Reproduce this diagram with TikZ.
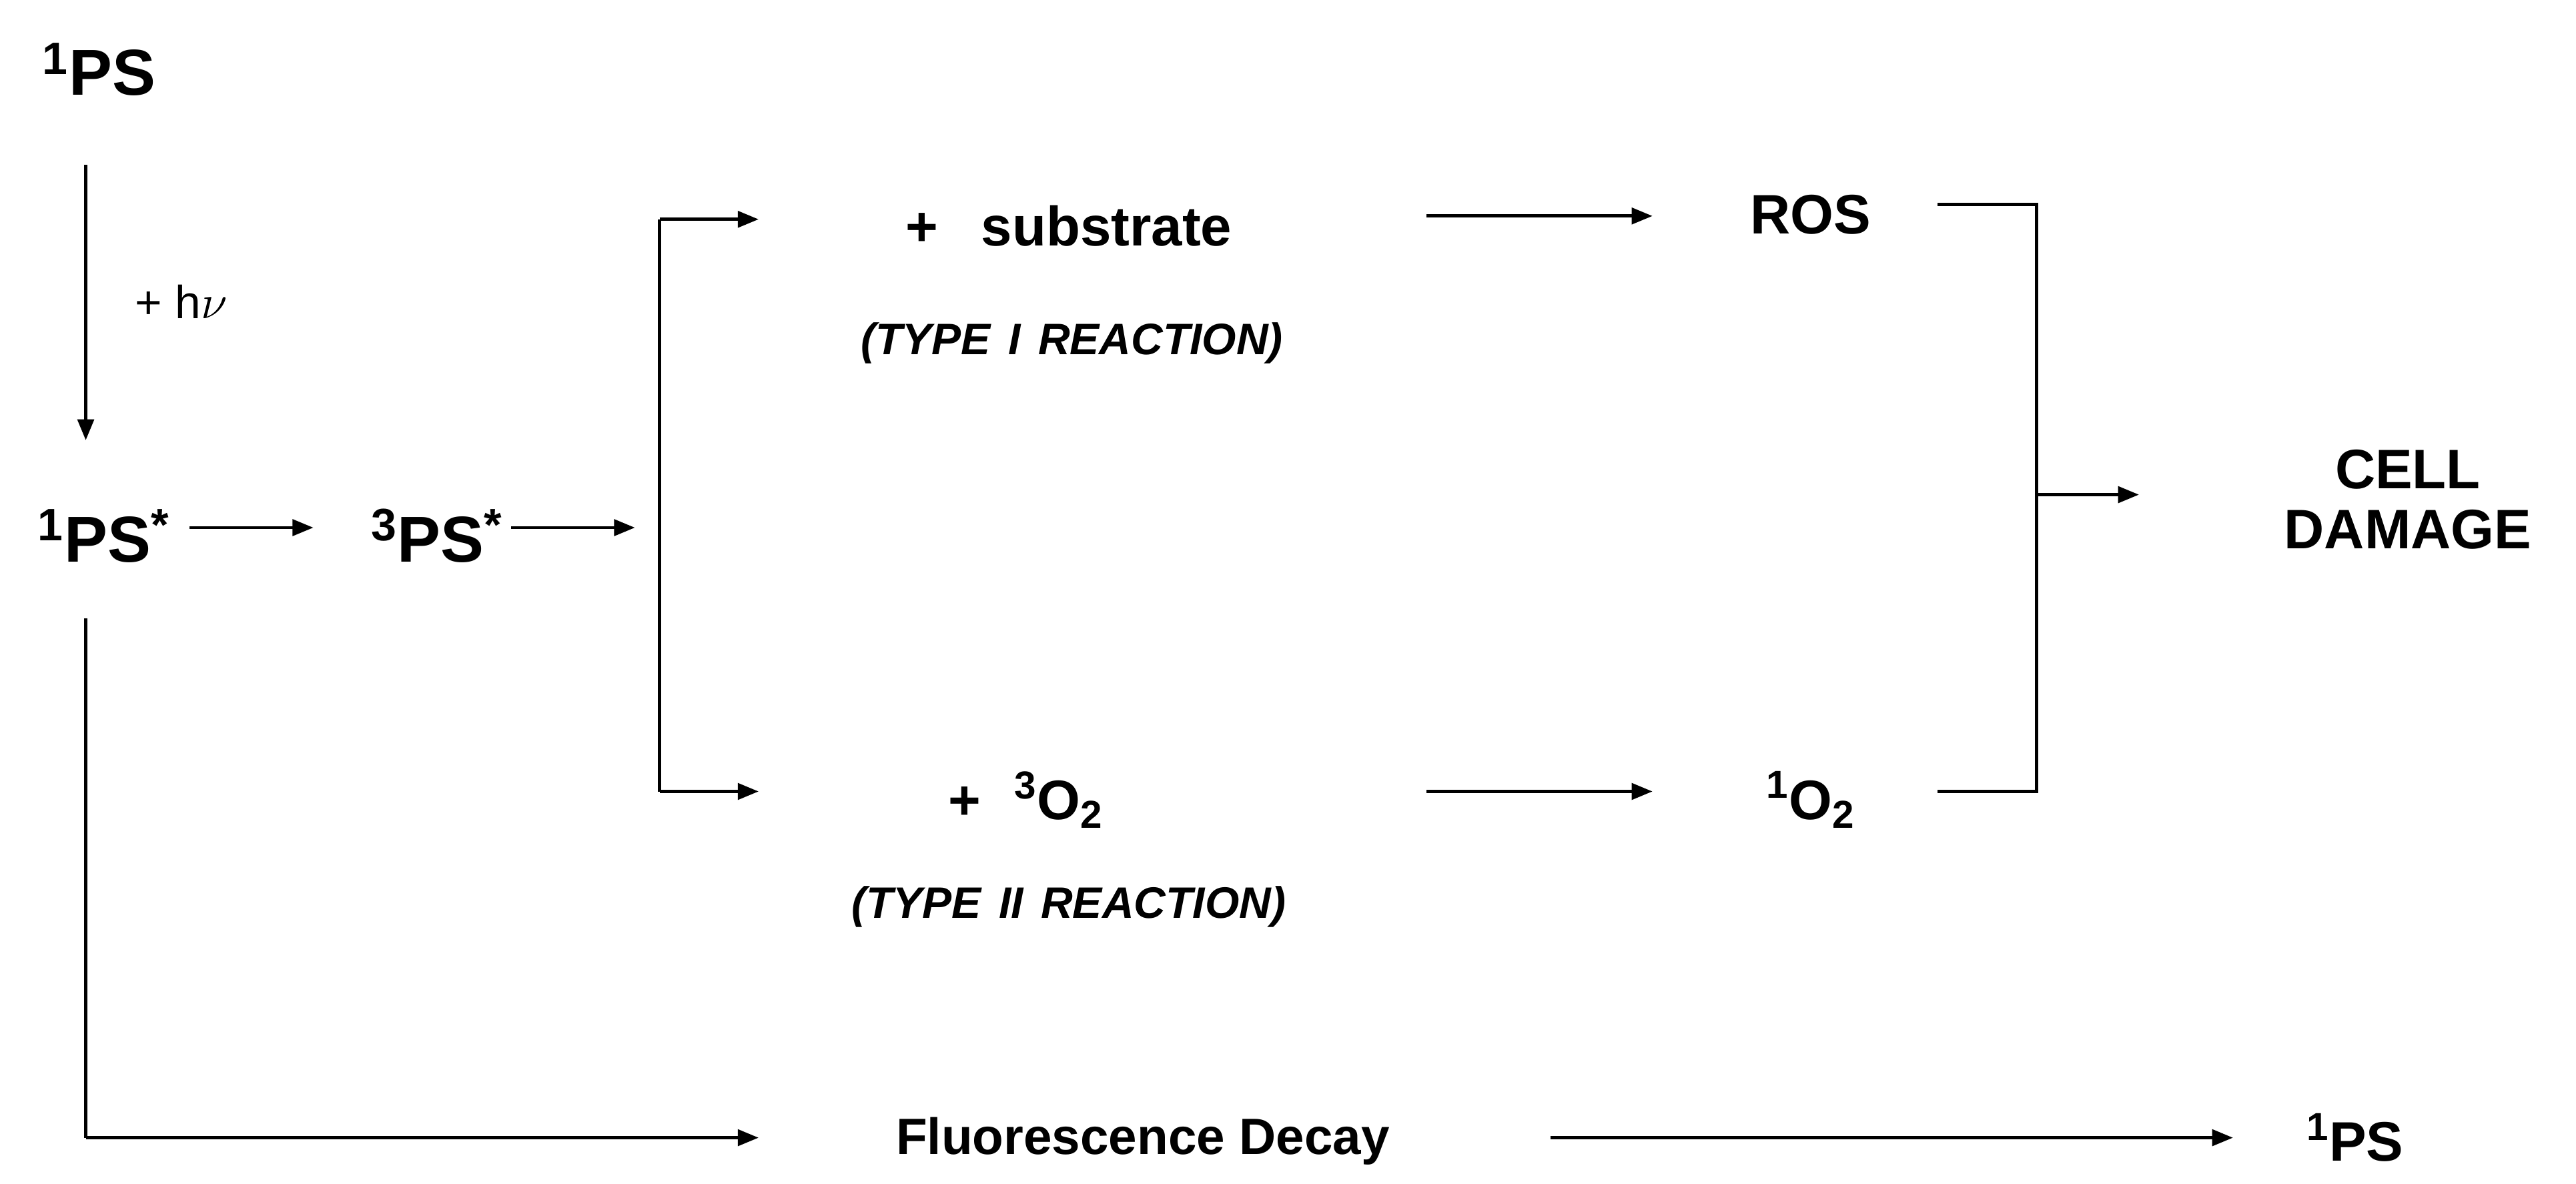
\documentclass[tikz,border=0pt]{standalone}
\usepackage{fontspec}
\setmainfont{Liberation Sans}
\usetikzlibrary{arrows.meta}
\begin{document}
\begin{tikzpicture}[x=0.025cm,y=-0.025cm,
 big/.style={font=\fontsize{28}{32}\selectfont\bfseries,inner sep=0pt},
 mid/.style={font=\fontsize{24}{28}\selectfont\bfseries,inner sep=0pt},
 typ/.style={font=\fontsize{19}{22}\selectfont\bfseries\itshape,inner sep=0pt},
 fl/.style={font=\fontsize{22}{26}\selectfont\bfseries,inner sep=0pt},
 ar/.style={line width=1.4pt,-{Triangle[length=9pt,width=7pt]}},
 ln/.style={line width=1.4pt}]
\useasboundingbox (0,0) rectangle (1562,718);
\node[big] (ps0) at (60,42) {\textsuperscript{1}PS};
\coordinate (a1) at (52,100); \coordinate (a2) at (52,267);
\draw[ar] (a1) -- (a2);
\node[font=\fontsize{20}{24}\selectfont,inner sep=0pt] (hv) at (110,183) {+ h$\nu$};
\node[big] (ps1) at (63,325) {\textsuperscript{1}PS\textsuperscript{*}};
\node[big] (ps3) at (265,325) {\textsuperscript{3}PS\textsuperscript{*}};
\coordinate (b1) at (115,320); \coordinate (b2) at (190,320);
\draw[ar] (b1) -- (b2);
\coordinate (c1) at (310,320); \coordinate (c2) at (385,320);
\draw[ar] (c1) -- (c2);
\coordinate (t) at (400,133); \coordinate (bt) at (400,480);
\coordinate (te) at (460,133); \coordinate (be) at (460,480);
\draw[ln] (t) -- (bt);
\draw[ar] (t) -- (te);
\draw[ar] (bt) -- (be);
\node[mid] (sub) at (648,137) {+\hspace{0.5em} substrate};
\node[typ] (t1) at (650,208) {(TYPE\hspace{0.4em}I\hspace{0.4em}REACTION)};
\node[mid] (o2) at (622,485) {+\hspace{0.6em}\textsuperscript{3}O\textsubscript{2}};
\node[typ] (t2) at (648,550) {(TYPE\hspace{0.4em}II\hspace{0.4em}REACTION)};
\coordinate (d1) at (865,131); \coordinate (d2) at (1002,131);
\draw[ar] (d1) -- (d2);
\coordinate (e1) at (865,480); \coordinate (e2) at (1002,480);
\draw[ar] (e1) -- (e2);
\node[mid] (ros) at (1098,130) {ROS};
\node[mid] (so) at (1098,485) {\textsuperscript{1}O\textsubscript{2}};
\coordinate (r1) at (1175,124); \coordinate (r2) at (1235,124);
\coordinate (r3) at (1235,480); \coordinate (r4) at (1175,480);
\draw[ln] (r1) -- (r2) -- (r3) -- (r4);
\coordinate (m1) at (1235,300); \coordinate (m2) at (1297,300);
\draw[ar] (m1) -- (m2);
\node[mid,align=center] (cd) at (1460,303) {CELL\\[-2pt]DAMAGE};
\coordinate (f0) at (52,375); \coordinate (f1) at (52,690); \coordinate (f2) at (460,690);
\draw[ln] (f0) -- (f1);
\draw[ar] (f1) -- (f2);
\node[fl] (fd) at (693,692) {Fluorescence Decay};
\coordinate (g1) at (940,690); \coordinate (g2) at (1354,690);
\draw[ar] (g1) -- (g2);
\node[mid] (psend) at (1428,690) {\textsuperscript{1}PS};
\end{tikzpicture}
\end{document}
